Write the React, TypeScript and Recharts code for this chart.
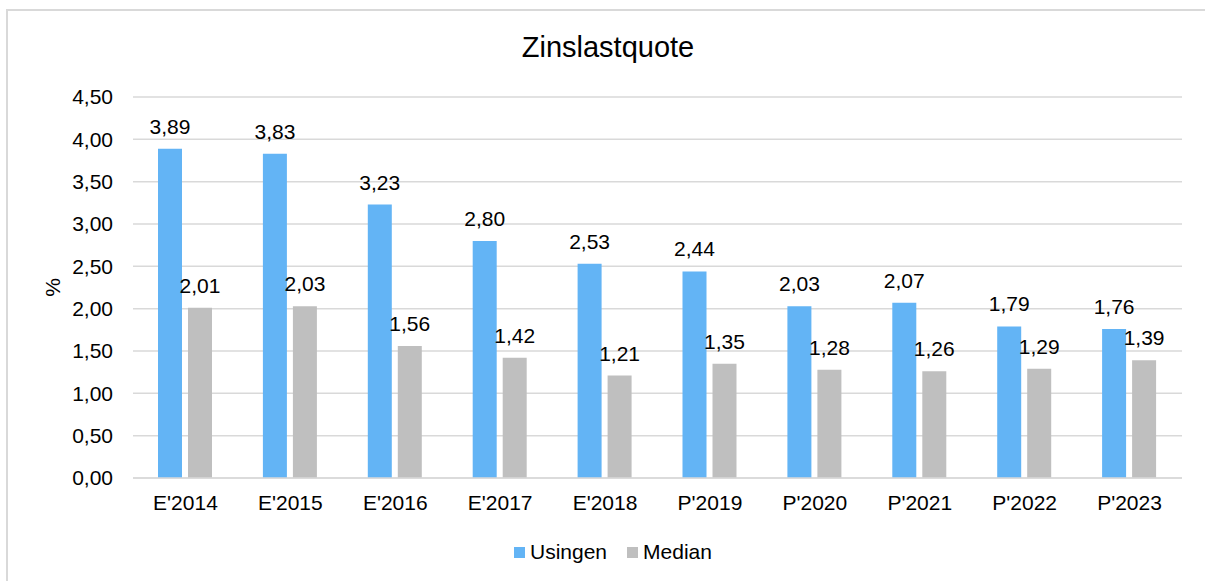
import React from 'react';
import { BarChart, Bar, XAxis, YAxis, CartesianGrid, Legend, LabelList } from 'recharts';

const categories = ["E'2014", "E'2015", "E'2016", "E'2017", "E'2018", "P'2019", "P'2020", "P'2021", "P'2022", "P'2023"];
const usingen = [3.89, 3.83, 3.23, 2.8, 2.53, 2.44, 2.03, 2.07, 1.79, 1.76];
const median = [2.01, 2.03, 1.56, 1.42, 1.21, 1.35, 1.28, 1.26, 1.29, 1.39];
const yTicks = [0, 0.5, 1, 1.5, 2, 2.5, 3, 3.5, 4, 4.5];
const seriesOrder = ['Usingen', 'Median'];
const title = 'Zinslastquote';
const yLabel = '%';

const data = categories.map((c, i) => ({ name: c, Usingen: usingen[i], Median: median[i] }));

const FONT = '"Liberation Sans", Arial, sans-serif';
const fmt = (v: any) => Number(v).toFixed(2).replace('.', ',');

const LegendContent = (props: any) => {
  const payload = [...(props.payload || [])].sort(
    (a: any, b: any) => seriesOrder.indexOf(a.value) - seriesOrder.indexOf(b.value)
  );
  return (
    <div style={{ height: 48, display: 'flex', alignItems: 'center', paddingLeft: 514, fontFamily: FONT, fontSize: 21, color: '#000' }}>
      {payload.map((p: any, i: number) => (
        <div key={i} style={{ display: 'flex', alignItems: 'center', marginRight: 20 }}>
          <span style={{ display: 'inline-block', width: 11, height: 11, background: p.color, marginRight: 5 }} />
          <span>{p.value}</span>
        </div>
      ))}
    </div>
  );
};

const YLabel = (props: any) => {
  const vb = props.viewBox || { x: 0, y: 0, height: 0 };
  const cx = 52;
  const cy = vb.y + vb.height / 2;
  return (
    <text x={cx} y={cy} transform={`rotate(-90 ${cx} ${cy})`} textAnchor="middle" dominantBaseline="central" fontSize={21} fill="#000" fontFamily={FONT}>
      {yLabel}
    </text>
  );
};

export default function App() {
  return (
    <div style={{ position: 'absolute', left: 0, top: 0, width: 1205, height: 581, background: '#fff', fontFamily: FONT }}>
      <BarChart
        width={1205}
        height={581}
        data={data}
        margin={{ top: 97, right: 23, bottom: 5, left: 0 }}
        barSize={24}
        barGap={6}
        style={{ fontFamily: FONT }}
      >
        <CartesianGrid vertical={false} stroke="#D9D9D9" strokeWidth={1.5} />
        <XAxis
          dataKey="name"
          height={50}
          tickLine={false}
          tickSize={0}
          tickMargin={17}
          axisLine={{ stroke: '#D9D9D9', strokeWidth: 1.5 }}
          tick={{ fontSize: 21, fill: '#000', fontFamily: FONT }}
          interval={0}
        />
        <YAxis
          width={133}
          domain={[0, 4.5]}
          ticks={yTicks}
          tickFormatter={fmt}
          axisLine={false}
          tickLine={false}
          tickSize={0}
          tickMargin={20}
          tick={{ fontSize: 21, fill: '#000', fontFamily: FONT }}
          label={<YLabel />}
        />
        <Legend verticalAlign="bottom" content={<LegendContent />} wrapperStyle={{ left: 0, width: 1205 }} />
        <Bar dataKey="Usingen" fill="#63B4F5" isAnimationActive={false}>
          <LabelList dataKey="Usingen" position="top" offset={15} formatter={fmt} style={{ fontSize: 21, fill: '#000', fontFamily: FONT }} />
        </Bar>
        <Bar dataKey="Median" fill="#BFBFBF" isAnimationActive={false}>
          <LabelList dataKey="Median" position="top" offset={15} formatter={fmt} style={{ fontSize: 21, fill: '#000', fontFamily: FONT }} />
        </Bar>
      </BarChart>
      <svg width={1205} height={581} style={{ position: 'absolute', left: 0, top: 0, pointerEvents: 'none' }}>
        <rect x={7} y={10} width={1300} height={700} fill="none" stroke="#D9D9D9" strokeWidth={2} />
        <text x={608} y={57} textAnchor="middle" fontSize={29} fill="#000" fontFamily={FONT}>{title}</text>
      </svg>
    </div>
  );
}
